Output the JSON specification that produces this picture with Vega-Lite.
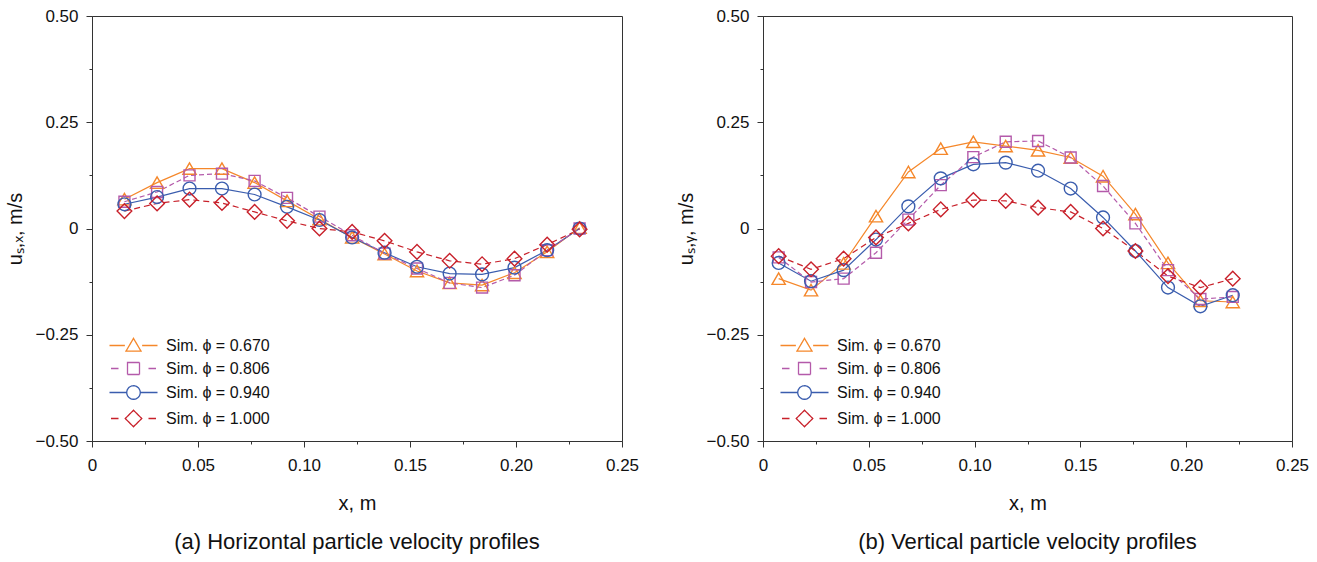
{
  "$schema": "https://vega.github.io/schema/vega-lite/v6.json",
  "padding": {"left": 5, "top": 6, "right": 5, "bottom": 5},
  "config": {
    "font": "Liberation Sans",
    "view": {"stroke": "#333", "strokeWidth": 1},
    "axis": {"domainColor": "#333", "tickColor": "#333", "labelFont": "Liberation Sans", "labelFontSize": 17, "labelColor": "#111", "titleFont": "Liberation Sans", "titleFontSize": 20, "titleFontWeight": "normal", "titleColor": "#111", "grid": false, "labelFlush": false, "labelOverlap": false},
    "legend": {"labelFont": "Liberation Sans", "labelFontSize": 16, "labelColor": "#111"},
    "title": {"font": "Liberation Sans", "fontSize": 22, "fontWeight": "normal", "color": "#111"},
    "concat": {"spacing": 36}
  },
  "resolve": {"scale": {"color": "independent"}, "legend": {"color": "independent"}},
  "datasets": {
    "a": [
      {"x": 0.0153, "y": 0.069, "phi": "0.670"}, {"x": 0.0307, "y": 0.108, "phi": "0.670"}, {"x": 0.0460, "y": 0.141, "phi": "0.670"}, {"x": 0.0613, "y": 0.141, "phi": "0.670"}, {"x": 0.0767, "y": 0.108, "phi": "0.670"}, {"x": 0.0920, "y": 0.065, "phi": "0.670"}, {"x": 0.1073, "y": 0.022, "phi": "0.670"}, {"x": 0.1227, "y": -0.021, "phi": "0.670"}, {"x": 0.1380, "y": -0.060, "phi": "0.670"}, {"x": 0.1533, "y": -0.100, "phi": "0.670"}, {"x": 0.1687, "y": -0.128, "phi": "0.670"}, {"x": 0.1840, "y": -0.133, "phi": "0.670"}, {"x": 0.1993, "y": -0.104, "phi": "0.670"}, {"x": 0.2147, "y": -0.055, "phi": "0.670"}, {"x": 0.2300, "y": 0.002, "phi": "0.670"},
      {"x": 0.0153, "y": 0.063, "phi": "0.806"}, {"x": 0.0307, "y": 0.086, "phi": "0.806"}, {"x": 0.0460, "y": 0.125, "phi": "0.806"}, {"x": 0.0613, "y": 0.129, "phi": "0.806"}, {"x": 0.0767, "y": 0.112, "phi": "0.806"}, {"x": 0.0920, "y": 0.072, "phi": "0.806"}, {"x": 0.1073, "y": 0.028, "phi": "0.806"}, {"x": 0.1227, "y": -0.016, "phi": "0.806"}, {"x": 0.1380, "y": -0.059, "phi": "0.806"}, {"x": 0.1533, "y": -0.094, "phi": "0.806"}, {"x": 0.1687, "y": -0.128, "phi": "0.806"}, {"x": 0.1840, "y": -0.139, "phi": "0.806"}, {"x": 0.1993, "y": -0.110, "phi": "0.806"}, {"x": 0.2147, "y": -0.051, "phi": "0.806"}, {"x": 0.2300, "y": 0.000, "phi": "0.806"},
      {"x": 0.0153, "y": 0.057, "phi": "0.940"}, {"x": 0.0307, "y": 0.074, "phi": "0.940"}, {"x": 0.0460, "y": 0.094, "phi": "0.940"}, {"x": 0.0613, "y": 0.094, "phi": "0.940"}, {"x": 0.0767, "y": 0.080, "phi": "0.940"}, {"x": 0.0920, "y": 0.051, "phi": "0.940"}, {"x": 0.1073, "y": 0.020, "phi": "0.940"}, {"x": 0.1227, "y": -0.021, "phi": "0.940"}, {"x": 0.1380, "y": -0.057, "phi": "0.940"}, {"x": 0.1533, "y": -0.090, "phi": "0.940"}, {"x": 0.1687, "y": -0.106, "phi": "0.940"}, {"x": 0.1840, "y": -0.108, "phi": "0.940"}, {"x": 0.1993, "y": -0.092, "phi": "0.940"}, {"x": 0.2147, "y": -0.051, "phi": "0.940"}, {"x": 0.2300, "y": 0.000, "phi": "0.940"},
      {"x": 0.0153, "y": 0.041, "phi": "1.000"}, {"x": 0.0307, "y": 0.059, "phi": "1.000"}, {"x": 0.0460, "y": 0.068, "phi": "1.000"}, {"x": 0.0613, "y": 0.060, "phi": "1.000"}, {"x": 0.0767, "y": 0.039, "phi": "1.000"}, {"x": 0.0920, "y": 0.018, "phi": "1.000"}, {"x": 0.1073, "y": 0.000, "phi": "1.000"}, {"x": 0.1227, "y": -0.008, "phi": "1.000"}, {"x": 0.1380, "y": -0.029, "phi": "1.000"}, {"x": 0.1533, "y": -0.055, "phi": "1.000"}, {"x": 0.1687, "y": -0.076, "phi": "1.000"}, {"x": 0.1840, "y": -0.084, "phi": "1.000"}, {"x": 0.1993, "y": -0.071, "phi": "1.000"}, {"x": 0.2147, "y": -0.038, "phi": "1.000"}, {"x": 0.2300, "y": -0.002, "phi": "1.000"}
    ],
    "b": [
      {"x": 0.0074, "y": -0.118, "phi": "0.670"}, {"x": 0.0227, "y": -0.145, "phi": "0.670"}, {"x": 0.0381, "y": -0.082, "phi": "0.670"}, {"x": 0.0534, "y": 0.029, "phi": "0.670"}, {"x": 0.0687, "y": 0.133, "phi": "0.670"}, {"x": 0.0840, "y": 0.188, "phi": "0.670"}, {"x": 0.0994, "y": 0.204, "phi": "0.670"}, {"x": 0.1147, "y": 0.194, "phi": "0.670"}, {"x": 0.1300, "y": 0.184, "phi": "0.670"}, {"x": 0.1454, "y": 0.167, "phi": "0.670"}, {"x": 0.1607, "y": 0.123, "phi": "0.670"}, {"x": 0.1760, "y": 0.034, "phi": "0.670"}, {"x": 0.1914, "y": -0.081, "phi": "0.670"}, {"x": 0.2067, "y": -0.170, "phi": "0.670"}, {"x": 0.2220, "y": -0.173, "phi": "0.670"},
      {"x": 0.0074, "y": -0.068, "phi": "0.806"}, {"x": 0.0227, "y": -0.126, "phi": "0.806"}, {"x": 0.0381, "y": -0.118, "phi": "0.806"}, {"x": 0.0534, "y": -0.057, "phi": "0.806"}, {"x": 0.0687, "y": 0.021, "phi": "0.806"}, {"x": 0.0840, "y": 0.102, "phi": "0.806"}, {"x": 0.0994, "y": 0.168, "phi": "0.806"}, {"x": 0.1147, "y": 0.204, "phi": "0.806"}, {"x": 0.1300, "y": 0.206, "phi": "0.806"}, {"x": 0.1454, "y": 0.167, "phi": "0.806"}, {"x": 0.1607, "y": 0.100, "phi": "0.806"}, {"x": 0.1760, "y": 0.012, "phi": "0.806"}, {"x": 0.1914, "y": -0.098, "phi": "0.806"}, {"x": 0.2067, "y": -0.166, "phi": "0.806"}, {"x": 0.2220, "y": -0.161, "phi": "0.806"},
      {"x": 0.0074, "y": -0.081, "phi": "0.940"}, {"x": 0.0227, "y": -0.124, "phi": "0.940"}, {"x": 0.0381, "y": -0.098, "phi": "0.940"}, {"x": 0.0534, "y": -0.026, "phi": "0.940"}, {"x": 0.0687, "y": 0.052, "phi": "0.940"}, {"x": 0.0840, "y": 0.118, "phi": "0.940"}, {"x": 0.0994, "y": 0.151, "phi": "0.940"}, {"x": 0.1147, "y": 0.155, "phi": "0.940"}, {"x": 0.1300, "y": 0.136, "phi": "0.940"}, {"x": 0.1454, "y": 0.094, "phi": "0.940"}, {"x": 0.1607, "y": 0.026, "phi": "0.940"}, {"x": 0.1760, "y": -0.053, "phi": "0.940"}, {"x": 0.1914, "y": -0.139, "phi": "0.940"}, {"x": 0.2067, "y": -0.183, "phi": "0.940"}, {"x": 0.2220, "y": -0.157, "phi": "0.940"},
      {"x": 0.0074, "y": -0.065, "phi": "1.000"}, {"x": 0.0227, "y": -0.096, "phi": "1.000"}, {"x": 0.0381, "y": -0.071, "phi": "1.000"}, {"x": 0.0534, "y": -0.021, "phi": "1.000"}, {"x": 0.0687, "y": 0.012, "phi": "1.000"}, {"x": 0.0840, "y": 0.045, "phi": "1.000"}, {"x": 0.0994, "y": 0.067, "phi": "1.000"}, {"x": 0.1147, "y": 0.065, "phi": "1.000"}, {"x": 0.1300, "y": 0.049, "phi": "1.000"}, {"x": 0.1454, "y": 0.039, "phi": "1.000"}, {"x": 0.1607, "y": 0.000, "phi": "1.000"}, {"x": 0.1760, "y": -0.053, "phi": "1.000"}, {"x": 0.1914, "y": -0.112, "phi": "1.000"}, {"x": 0.2067, "y": -0.139, "phi": "1.000"}, {"x": 0.2220, "y": -0.118, "phi": "1.000"}
    ]
  },
  "hconcat": [
    {
      "width": 530,
      "height": 425,
      "title": {"text": "(a) Horizontal particle velocity profiles", "orient": "bottom", "frame": "group", "offset": 19},
      "data": {"name": "a"},
      "encoding": {
        "x": {"field": "x", "type": "quantitative", "scale": {"domain": [0, 0.25], "nice": false, "zero": false},
          "axis": {"title": "x, m", "values": [0, 0.025, 0.05, 0.075, 0.1, 0.125, 0.15, 0.175, 0.2, 0.225, 0.25],
            "labelExpr": "round(datum.value*40) % 2 === 0 ? (datum.value === 0 ? '0' : format(datum.value, '.2f')) : ''",
            "tickSize": {"condition": {"test": "round(datum.value*40) % 2 === 0", "value": 6}, "value": 3},
            "labelPadding": 10, "titlePadding": 20}},
        "y": {"field": "y", "type": "quantitative", "scale": {"domain": [-0.5, 0.5], "nice": false},
          "axis": {"title": "uₛ,ₓ, m/s", "values": [-0.5, -0.375, -0.25, -0.125, 0, 0.125, 0.25, 0.375, 0.5],
            "labelExpr": "round(datum.value*8) % 2 === 0 ? (datum.value === 0 ? '0' : format(datum.value, '.2f')) : ''",
            "tickSize": {"condition": {"test": "round(datum.value*8) % 2 === 0", "value": 6}, "value": 3},
            "labelPadding": 8, "titlePadding": 9}},
        "color": {"field": "phi", "type": "nominal",
          "scale": {"domain": ["0.670", "0.806", "0.940", "1.000"], "range": ["#F5872A", "#B45AAA", "#3A5DAE", "#C8202A"]},
          "legend": {"orient": "bottom-left", "title": null, "offset": 11.5, "labelExpr": "'Sim. ϕ = ' + datum.label",
            "symbolSize": 225, "symbolStrokeWidth": 1.3, "symbolOffset": 21, "labelOffset": 24, "rowPadding": 5,
            "encode": {"symbols": {"update": {
              "fill": {"value": "transparent"},
              "strokeDash": {"value": [1, 0]},
              "shape": {"signal": "datum.value === '0.670' ? 'M-3.2,0H-1.15M1.15,0H3.2M0,-0.95L1,0.75H-1Z' : datum.value === '0.806' ? 'M-3.0,0H-2.0M2.0,0H3.0M-0.8,-0.8H0.8V0.8H-0.8Z' : datum.value === '0.940' ? 'M-3.2,0H-0.9M0.9,0H3.2M0.9,0A0.9,0.9 0 1,1 -0.9,0A0.9,0.9 0 1,1 0.9,0Z' : 'M-3.0,0H-2.0M2.0,0H3.0M-1.1,0L0,-1.1L1.1,0L0,1.1Z'"}
            }}}}}
      },
      "layer": [
        {"transform": [{"filter": "datum.phi === '0.670' || datum.phi === '0.940'"}], "mark": {"type": "line", "strokeWidth": 1.2}, "encoding": {"detail": {"field": "phi"}}},
        {"transform": [{"filter": "datum.phi === '0.806'"}], "mark": {"type": "line", "strokeWidth": 1.2, "strokeDash": [5, 3]}, "encoding": {}},
        {"transform": [{"filter": "datum.phi === '1.000'"}], "mark": {"type": "line", "strokeWidth": 1.2, "strokeDash": [6, 4]}, "encoding": {}},
        {"transform": [{"filter": "datum.phi === '0.670'"}], "mark": {"type": "point", "filled": false, "strokeWidth": 1.4, "opacity": 1, "shape": "triangle-up", "size": 175}},
        {"transform": [{"filter": "datum.phi === '0.806'"}], "mark": {"type": "point", "filled": false, "strokeWidth": 1.4, "opacity": 1, "shape": "square", "size": 120}},
        {"transform": [{"filter": "datum.phi === '0.940'"}], "mark": {"type": "point", "filled": false, "strokeWidth": 1.4, "opacity": 1, "shape": "circle", "size": 165}},
        {"transform": [{"filter": "datum.phi === '1.000'"}], "mark": {"type": "point", "filled": false, "strokeWidth": 1.4, "opacity": 1, "shape": "diamond", "size": 215}}
      ]
    },
    {
      "width": 529,
      "height": 425,
      "title": {"text": "(b) Vertical particle velocity profiles", "orient": "bottom", "frame": "group", "offset": 19},
      "data": {"name": "b"},
      "encoding": {
        "x": {"field": "x", "type": "quantitative", "scale": {"domain": [0, 0.25], "nice": false, "zero": false},
          "axis": {"title": "x, m", "values": [0, 0.025, 0.05, 0.075, 0.1, 0.125, 0.15, 0.175, 0.2, 0.225, 0.25],
            "labelExpr": "round(datum.value*40) % 2 === 0 ? (datum.value === 0 ? '0' : format(datum.value, '.2f')) : ''",
            "tickSize": {"condition": {"test": "round(datum.value*40) % 2 === 0", "value": 6}, "value": 3},
            "labelPadding": 10, "titlePadding": 20}},
        "y": {"field": "y", "type": "quantitative", "scale": {"domain": [-0.5, 0.5], "nice": false},
          "axis": {"title": "uₛ,ᵧ, m/s", "values": [-0.5, -0.375, -0.25, -0.125, 0, 0.125, 0.25, 0.375, 0.5],
            "labelExpr": "round(datum.value*8) % 2 === 0 ? (datum.value === 0 ? '0' : format(datum.value, '.2f')) : ''",
            "tickSize": {"condition": {"test": "round(datum.value*8) % 2 === 0", "value": 6}, "value": 3},
            "labelPadding": 8, "titlePadding": 9}},
        "color": {"field": "phi", "type": "nominal",
          "scale": {"domain": ["0.670", "0.806", "0.940", "1.000"], "range": ["#F5872A", "#B45AAA", "#3A5DAE", "#C8202A"]},
          "legend": {"orient": "bottom-left", "title": null, "offset": 11.5, "labelExpr": "'Sim. ϕ = ' + datum.label",
            "symbolSize": 225, "symbolStrokeWidth": 1.3, "symbolOffset": 21, "labelOffset": 24, "rowPadding": 5,
            "encode": {"symbols": {"update": {
              "fill": {"value": "transparent"},
              "strokeDash": {"value": [1, 0]},
              "shape": {"signal": "datum.value === '0.670' ? 'M-3.2,0H-1.15M1.15,0H3.2M0,-0.95L1,0.75H-1Z' : datum.value === '0.806' ? 'M-3.0,0H-2.0M2.0,0H3.0M-0.8,-0.8H0.8V0.8H-0.8Z' : datum.value === '0.940' ? 'M-3.2,0H-0.9M0.9,0H3.2M0.9,0A0.9,0.9 0 1,1 -0.9,0A0.9,0.9 0 1,1 0.9,0Z' : 'M-3.0,0H-2.0M2.0,0H3.0M-1.1,0L0,-1.1L1.1,0L0,1.1Z'"}
            }}}}}
      },
      "layer": [
        {"transform": [{"filter": "datum.phi === '0.670' || datum.phi === '0.940'"}], "mark": {"type": "line", "strokeWidth": 1.2}, "encoding": {"detail": {"field": "phi"}}},
        {"transform": [{"filter": "datum.phi === '0.806'"}], "mark": {"type": "line", "strokeWidth": 1.2, "strokeDash": [5, 3]}, "encoding": {}},
        {"transform": [{"filter": "datum.phi === '1.000'"}], "mark": {"type": "line", "strokeWidth": 1.2, "strokeDash": [6, 4]}, "encoding": {}},
        {"transform": [{"filter": "datum.phi === '0.670'"}], "mark": {"type": "point", "filled": false, "strokeWidth": 1.4, "opacity": 1, "shape": "triangle-up", "size": 175}},
        {"transform": [{"filter": "datum.phi === '0.806'"}], "mark": {"type": "point", "filled": false, "strokeWidth": 1.4, "opacity": 1, "shape": "square", "size": 120}},
        {"transform": [{"filter": "datum.phi === '0.940'"}], "mark": {"type": "point", "filled": false, "strokeWidth": 1.4, "opacity": 1, "shape": "circle", "size": 165}},
        {"transform": [{"filter": "datum.phi === '1.000'"}], "mark": {"type": "point", "filled": false, "strokeWidth": 1.4, "opacity": 1, "shape": "diamond", "size": 215}}
      ]
    }
  ]
}
